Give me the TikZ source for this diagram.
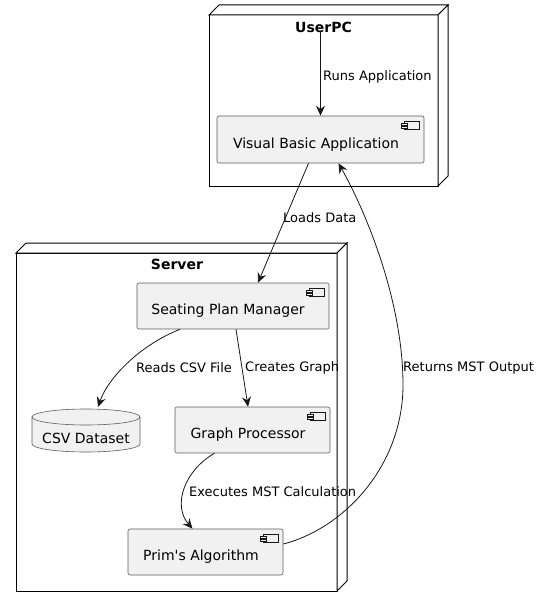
\documentclass[tikz,border=0pt]{standalone}
\usepackage{fontspec}
\setmainfont{DejaVu Sans}
\usetikzlibrary{arrows.meta,calc}
\definecolor{compfill}{HTML}{F1F1F1}
\definecolor{compline}{HTML}{181818}
\tikzset{
  comp/.style={draw=compline!70, line width=0.6pt, fill=compfill, rounded corners=2pt,
    inner sep=0pt},
  comptext/.style={font=\fontsize{14}{16}\selectfont, text=black, inner sep=0pt},
  lbl/.style={font=\fontsize{13}{15}\selectfont, anchor=west, inner sep=0pt, text=black},
  title/.style={font=\fontsize{14}{16}\selectfont\bfseries, inner sep=0pt},
  conn/.style={draw=compline, line width=0.8pt, -{Stealth[length=10pt,width=9pt,inset=3.5pt]}},
  nodeframe/.style={draw=black, line width=1pt, fill=white},
}
\newcommand{\depnode}[4]{% x1 y1 x2 y2 (front face)
  \path[nodeframe] (#1,#2) rectangle (#3,#4);
  \path[nodeframe] (#1,#2) -- (#1+10,#2-10) -- (#3+10,#2-10) -- (#3,#2) -- cycle;
  \path[nodeframe] (#3,#2) -- (#3+10,#2-10) -- (#3+10,#4-10) -- (#3,#4) -- cycle;
}
\newcommand{\compicon}[1]{% node name
  \draw[compline, line width=0.5pt, fill=compfill] ($(#1.north east)+(-20,6)$) rectangle ($(#1.north east)+(-5,14)$);
  \draw[compline, line width=0.5pt, fill=compfill] ($(#1.north east)+(-23,8)$) rectangle ($(#1.north east)+(-17,10)$);
  \draw[compline, line width=0.5pt, fill=compfill] ($(#1.north east)+(-23,11)$) rectangle ($(#1.north east)+(-17,13)$);
}
\begin{document}
\begin{tikzpicture}[x=1pt,y=-1pt]
\useasboundingbox (0,0) rectangle (541,607);
% deployment nodes
\depnode{209}{15}{438}{186}
\depnode{16}{253}{337}{591}
\node[title] (upc) at (323.5,27) {UserPC};
\node[title] (srv) at (177,264) {Server};
% components
\node[comp, minimum width=207pt, minimum height=47pt] (vba) at (320.5,139.5) {};
\node[comptext] (vbat) at (316,144.5) {Visual Basic Application};
\node[comp, minimum width=192pt, minimum height=46pt] (spm) at (233,306) {};
\node[comptext] (spmt) at (228,311) {Seating Plan Manager};
\node[comp, minimum width=155pt, minimum height=46pt] (gp) at (252.5,430) {};
\node[comptext] (gpt) at (248,435) {Graph Processor};
\node[comp, minimum width=155pt, minimum height=46pt] (prim) at (205.5,552) {};
\node[comptext] (primt) at (201,557) {Prim\textquotesingle s Algorithm};
\compicon{vba}
\compicon{spm}
\compicon{gp}
\compicon{prim}
% database cylinder
\path[draw=compline!70, line width=0.6pt, fill=compfill]
  (32,417) -- (32,444) arc[start angle=180, end angle=0, x radius=54, y radius=8] -- (140,417)
  arc[start angle=0, end angle=-180, x radius=54, y radius=8] -- cycle;
\draw[compline!70, line width=0.6pt] (32,417) arc[start angle=180, end angle=0, x radius=54, y radius=8];
\coordinate (csv) at (86,409);
\node[comptext] (csvt) at (86,438) {CSV Dataset};
% connectors
\draw[conn] (upc.south -| vba.north) -- (vba.north);
\node[lbl] (l1) at (323,77) {Runs Application};
\draw[conn] ([xshift=-12pt]vba.south) -- ([xshift=25pt]spm.north);
\node[lbl] (l2) at (283,218) {Loads Data};
\draw[conn] ([xshift=-53pt]spm.south) .. controls (140,345) and (108,378) .. ([xshift=12pt,yshift=2pt]csv);
\node[lbl] (l3) at (136,368) {Reads CSV File};
\draw[conn] ([xshift=3pt]spm.south) -- ([xshift=-4.5pt]gp.north);
\node[lbl] (l4) at (245,368) {Creates Graph};
\draw[conn] ([xshift=-38pt]gp.south) .. controls (185,470) and (172,505) .. ([xshift=-13pt]prim.north);
\node[lbl] (l5) at (189,492) {Executes MST Calculation};
\draw[conn] ([yshift=8pt]prim.east) .. controls (345,528) and (403,465) .. (403,385)
  .. controls (403,300) and (365,210) .. ([xshift=18pt]vba.south);
\node[lbl] (l6) at (403,368) {Returns MST Output};
\end{tikzpicture}
\end{document}
